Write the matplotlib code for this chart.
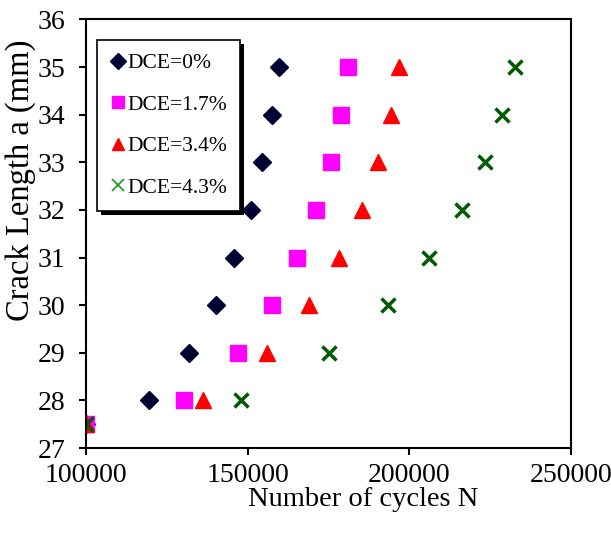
import matplotlib.pyplot as plt
import matplotlib
import matplotlib.patheffects as pe

matplotlib.rcParams.update({'font.family': 'Liberation Serif', 'font.size': 20})

crack = [27.5, 28, 29, 30, 31, 32, 33, 34, 35]
n_0 = [100000, 119600, 131900, 140100, 145800, 150900, 154300, 157400, 159800]
n_17 = [100000, 130300, 146900, 157400, 165200, 171000, 175700, 178800, 181100]
n_34 = [100000, 136100, 155900, 169100, 178300, 185300, 190400, 194200, 196900]
n_43 = [100000, 147800, 175200, 193500, 206200, 216400, 223400, 228600, 232700]

fig = plt.figure(figsize=(6.11, 5.34), dpi=100)
ax = fig.add_axes([0.1408, 0.161, 0.7937, 0.8025])

ax.plot(n_0, crack, 'D', color='#000033', markersize=9, label='DCE=0%', linestyle='none')
ax.plot(n_17, crack, 's', color='#ff00ff', markersize=11, label='DCE=1.7%', linestyle='none')
ax.plot(n_34, crack, '^', color='#ff0000', markersize=11, label='DCE=3.4%', linestyle='none')
ax.plot(n_43, crack, 'x', color='#005a00', markersize=10, markeredgewidth=2.5,
        label='DCE=4.3%', linestyle='none')

ax.set_xlim(100000, 250000)
ax.set_ylim(27, 36)
ax.set_xticks([100000, 150000, 200000, 250000])
ax.set_yticks(range(27, 37))
ax.tick_params(direction='out', length=5, width=1.5, labelsize=20)
ax.tick_params(axis='y', pad=10)
ax.tick_params(axis='x', pad=6)
for s in ax.spines.values():
    s.set_linewidth(1.5)

ax.set_xlabel('Number of cycles N', fontsize=20.5)
ax.xaxis.set_label_coords(0.571, -0.092)
ax.set_ylabel('Crack Length a (mm)', fontsize=23.5)
ax.yaxis.set_label_coords(-0.103, 0.625)

leg = ax.legend(loc='upper left', bbox_to_anchor=(0.023, 0.952), borderaxespad=0,
                fancybox=False, edgecolor='black', framealpha=1,
                labelspacing=1.0, handlelength=0.7, handletextpad=0.1,
                borderpad=0.6, markerscale=0.85, fontsize=15.5)
leg.get_frame().set_linewidth(1.2)
leg.get_frame().set_path_effects([
    pe.SimplePatchShadow(offset=(3, -3), shadow_rgbFace='black', alpha=1),
    pe.Normal()])
xh = leg.legend_handles[3]
xh.set_markeredgewidth(1.3)
xh.set_color('#2a9a2a')

fig.savefig('out.png', dpi=100)
